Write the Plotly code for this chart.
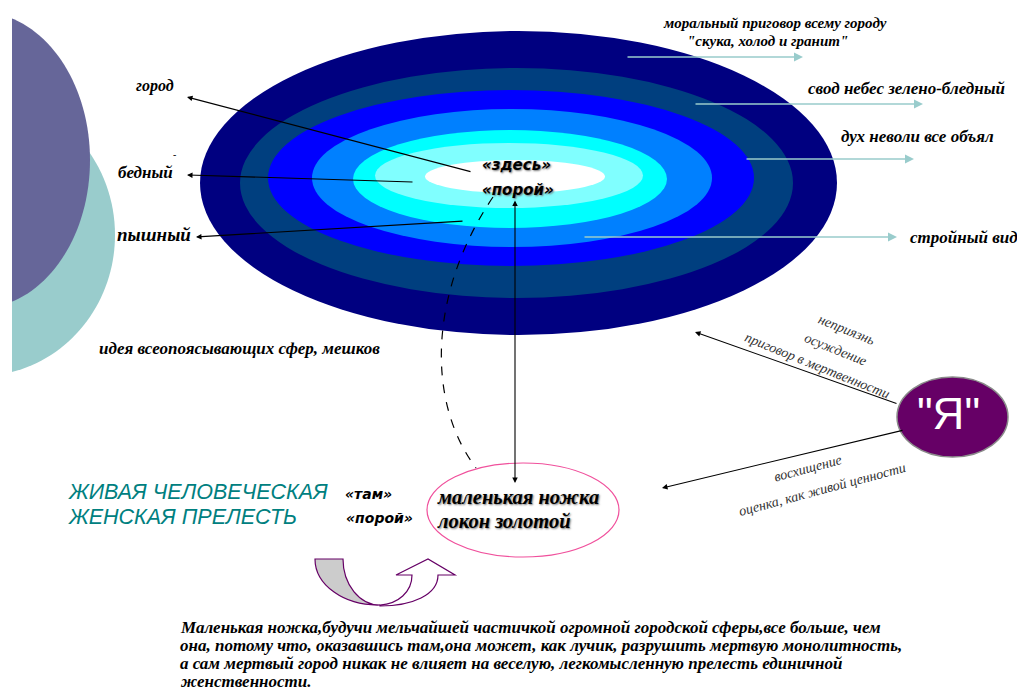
import plotly.graph_objects as go

# ---------------- data (texts / categories) ----------------
ring_names = ["город", "небо", "неволя", "гранит", "вид", "порой", "здесь"]
ring_colors = ["#000080", "#003F7F", "#0000FF", "#0080FF", "#00FFFF", "#80FFFF", "#FFFFFF"]
# ring extents: left, right, top, bottom
ring_x0 = [200, 240, 268, 312, 353, 375, 425]
ring_x1 = [837, 793, 754, 712, 667, 643, 605]
ring_y0 = [31, 68, 90, 109, 130, 143, 160]
ring_y1 = [335, 298, 266, 247, 228, 208, 193]

left_labels = ["город", "бедный", "пышный"]
right_labels = ["свод небес зелено-бледный", "дух неволи все объял", "стройный вид"]
top_labels = ["моральный приговор всему городу", "\"скука, холод и гранит\""]
center_labels = ["«здесь»", "«порой»"]
judgement_lines = ["неприязнь", "осуждение", "приговор в мертвенности"]
admiration_lines = ["восхищение", "оценка, как живой ценности"]
heading_lines = ["ЖИВАЯ ЧЕЛОВЕЧЕСКАЯ", "ЖЕНСКАЯ ПРЕЛЕСТЬ"]
there_labels = ["«там»", "«порой»"]
foot_lines = ["маленькая ножка", "локон золотой"]
idea_label = "идея всеопоясывающих сфер, мешков"
self_label = "\"Я\""
paragraph = [
    "Маленькая ножка,будучи мельчайшей частичкой огромной городской сферы,все больше, чем",
    "она, потому что, оказавшись там,она может, как лучик, разрушить мертвую монолитность,",
    "а сам мертвый город никак не влияет на веселую, легкомысленную прелесть единичной",
    "женственности.",
]

W, H = 1017, 693
SERIF = "Liberation Serif"
SANS = "Liberation Sans"
VERD = "DejaVu Sans"

fig = go.Figure()
shapes = []
ann = []

# ---------------- decorative left shapes ----------------
def ellipse_path(cx, cy, rx, ry):
    k = 0.5523
    return (f"M {cx-rx} {cy} "
            f"C {cx-rx} {cy-k*ry} {cx-k*rx} {cy-ry} {cx} {cy-ry} "
            f"C {cx+k*rx} {cy-ry} {cx+rx} {cy-k*ry} {cx+rx} {cy} "
            f"C {cx+rx} {cy+k*ry} {cx+k*rx} {cy+ry} {cx} {cy+ry} "
            f"C {cx-k*rx} {cy+ry} {cx-rx} {cy+k*ry} {cx-rx} {cy} Z")

shapes.append(dict(type="path", path=ellipse_path(-20, 235, 135, 141),
                   fillcolor="#99CCCC", line=dict(width=0), layer="below"))
shapes.append(dict(type="path", path=ellipse_path(-20, 160, 110, 148),
                   fillcolor="#666699", line=dict(width=0), layer="below"))
shapes.append(dict(type="rect", x0=-5, x1=12, y0=-5, y1=H + 5,
                   fillcolor="white", line=dict(width=0), layer="below"))

# ---------------- concentric city sphere ----------------
for name, c, a, b, t, u in zip(ring_names, ring_colors, ring_x0, ring_x1, ring_y0, ring_y1):
    shapes.append(dict(type="circle", x0=a, x1=b, y0=t, y1=u,
                       fillcolor=c, line=dict(width=0), layer="below"))

# ---------------- pink ellipse and "Я" ----------------
shapes.append(dict(type="circle", x0=427, x1=619, y0=463, y1=557,
                   fillcolor="rgba(255,255,255,0)", line=dict(color="#F0509C", width=1.2)))
shapes.append(dict(type="circle", x0=897, x1=1008, y0=377, y1=457,
                   fillcolor="#660066", line=dict(color="#8A8A8A", width=1.5)))

# dashed curve from «порой» to the little foot
shapes.append(dict(type="path", path="M 493 197 C 430 290 425 400 476 468",
                   line=dict(color="black", width=1.2, dash="dash")))

# U-turn arrow
k = 0.5523
gray = (f"M 315 559 L 343 559 "
        f"C 343 {559+k*46} {380-k*37} 605 380 605 "
        f"C {380-k*65} 606 315 {559+k*47} 315 559 Z")
shapes.append(dict(type="path", path=gray, fillcolor="#CCCCCC",
                   line=dict(color="#660066", width=1.2)))
white = ("M 380 606 C 412 606 438 595 438 575 L 455 575 L 428 559 L 396 575 L 412 575 "
         "C 412 592 398 604 380 605 Z")
shapes.append(dict(type="path", path=white, fillcolor="white",
                   line=dict(color="#660066", width=1.2)))

# ---------------- arrows ----------------
def arrow(x, y, ax, ay, color="black", width=1.1, head=2, size=1.0, side="end"):
    ann.append(dict(x=x, y=y, ax=ax, ay=ay, xref="x", yref="y", axref="x", ayref="y",
                    text="", showarrow=True, arrowhead=head, arrowsize=size,
                    arrowwidth=width, arrowcolor=color, arrowside=side,
                    startarrowhead=head, startarrowsize=size))

arrow(187, 97, 472, 172)
arrow(187, 175, 414, 182)
arrow(196, 237, 464, 221)
arrow(515, 483, 515, 199, side="end+start")
arrow(695, 332, 898, 404)
arrow(662, 488, 904, 430)

teal = "#99CCCC"
arrow(803, 57, 626, 57, color=teal, width=1.5, size=1.2)
arrow(923, 104, 694, 104, color=teal, width=1.5, size=1.2)
arrow(914, 159, 745, 159, color=teal, width=1.5, size=1.2)
arrow(897, 237, 583, 237, color=teal, width=1.5, size=1.2)

# ---------------- texts ----------------
def text(x, y, s, size, family=SERIF, color="black", italic=True, bold=True,
         xanchor="center", angle=0, shadow=None):
    font = dict(family=family, size=size, color=color,
                style="italic" if italic else "normal",
                weight="bold" if bold else "normal")
    if shadow:
        font["shadow"] = shadow
    ann.append(dict(x=x, y=y, xref="x", yref="y", text=s, showarrow=False,
                    xanchor=xanchor, yanchor="middle", textangle=angle, font=font))

text(775, 23, top_labels[0], 15)
text(767, 41, top_labels[1], 15)
text(806, 88, right_labels[0], 17, xanchor="left")
text(839, 136, right_labels[1], 17, xanchor="left")
text(908, 237, right_labels[2], 17, xanchor="left")

text(155, 86, left_labels[0], 16)
text(174, 154, "-", 10, bold=False)
text(145, 172, left_labels[1], 17)
text(154, 234, left_labels[2], 19)
text(239, 348, idea_label, 17)

sh = "1px 1px 2px #777"
text(516, 165, center_labels[0], 15, family=VERD, shadow=sh)
text(518, 190, center_labels[1], 15, family=VERD, shadow=sh)

text(846, 329, judgement_lines[0], 14, bold=False, color="#333333", angle=22)
text(836, 349, judgement_lines[1], 14, bold=False, color="#333333", angle=22)
text(817, 365, judgement_lines[2], 14, bold=False, color="#333333", angle=22)
text(807, 468, admiration_lines[0], 14, bold=False, color="#333333", angle=-15)
text(822, 489, admiration_lines[1], 14, bold=False, color="#333333", angle=-15)

text(948, 413, self_label, 44, family=SANS, color="white", italic=False, bold=False)

text(66, 492, heading_lines[0], 21.5, family=SANS, color="#00807F", bold=False, xanchor="left")
text(66, 517, heading_lines[1], 21.5, family=SANS, color="#00807F", bold=False, xanchor="left")
text(368, 494, there_labels[0], 14, family=VERD)
text(379, 518, there_labels[1], 14, family=VERD)

text(435, 497, foot_lines[0], 20.5, shadow=sh, xanchor="left")
text(435, 521, foot_lines[1], 20.5, shadow=sh, xanchor="left")

for i, line in enumerate(paragraph):
    text(178, 627 + 18 * i, line, 17, xanchor="left")

fig.update_layout(
    width=W, height=H, margin=dict(l=0, r=0, t=0, b=0),
    paper_bgcolor="white", plot_bgcolor="white",
    xaxis=dict(range=[0, W], visible=False, fixedrange=True),
    yaxis=dict(range=[H, 0], visible=False, fixedrange=True),
    shapes=shapes, annotations=ann, showlegend=False,
)
fig.write_html("out.html", post_script="document.body.style.margin='0';",
               config={"displayModeBar": False})
